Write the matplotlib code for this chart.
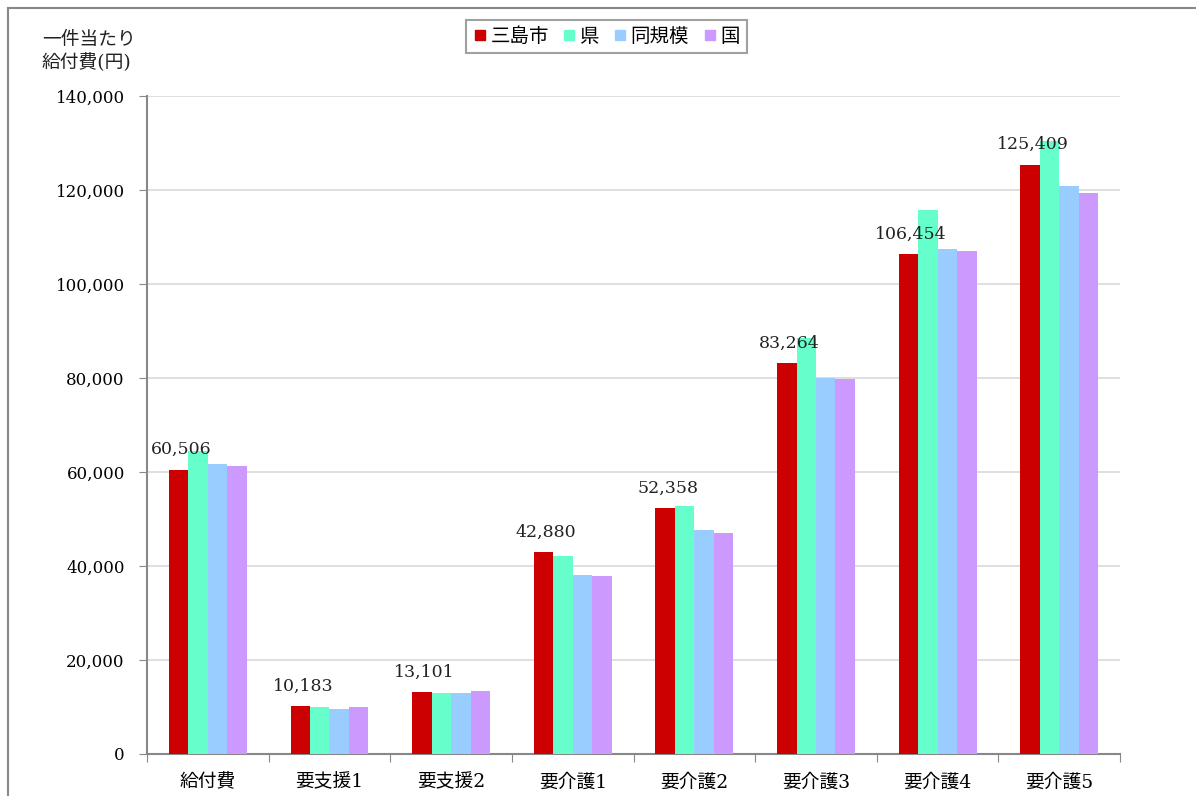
import matplotlib
matplotlib.use('Agg')
import matplotlib.pyplot as plt
from matplotlib.lines import Line2D
import numpy as np

plt.rcParams['font.family'] = ['DejaVu Serif', 'Noto Sans CJK JP', 'DejaVu Sans']

categories = ['給付費', '要支援1', '要支援2', '要介護1', '要介護2', '要介護3', '要介護4', '要介護5']
series_names = ['三島市', '県', '同規模', '国']
mishima = [60506, 10183, 13101, 42880, 52358, 83264, 106454, 125409]
ken = [64500, 10000, 13000, 42100, 52700, 88600, 115700, 130500]
doukibo = [61700, 9600, 13000, 38100, 47700, 80100, 107400, 120900]
kuni = [61300, 9900, 13300, 37800, 47000, 79800, 107000, 119300]
yticks = [0, 20000, 40000, 60000, 80000, 100000, 120000, 140000]

colors = ['#CC0000', '#66FFCC', '#99CCFF', '#CC99FF']
values = [mishima, ken, doukibo, kuni]

fig = plt.figure(figsize=(11.96, 7.96), dpi=100)
ax = fig.add_axes([0.1229, 0.0528, 0.8136, 0.8266])

x = np.arange(len(categories))
w = 0.16
for i, (vals, c) in enumerate(zip(values, colors)):
    ax.bar(x + (i - 1.5) * w, vals, w, color=c, linewidth=0, zorder=3)

# data labels for 三島市 only
for xi, v in zip(x, mishima):
    ax.annotate(f'{v:,}', (xi - 1.5 * w, v), xytext=(2, 11), textcoords='offset points',
                ha='center', va='baseline', fontsize=12.5, color='#222222', zorder=4)

ax.set_xlim(-0.5, len(categories) - 0.5)
ax.set_ylim(0, 140000)
ax.set_yticks(yticks)
ax.set_yticklabels([f'{t:,}' for t in yticks], fontsize=12)
ax.yaxis.grid(True, color='#D9D9D9', linewidth=1.2, zorder=0)

ax.set_xticks(np.arange(-0.5, len(categories)), labels=[''] * (len(categories) + 1))
ax.set_xticks(x, labels=categories, minor=True, fontsize=13.5)
ax.tick_params(axis='x', which='major', length=6, color='#888888', direction='out')
ax.tick_params(axis='x', which='minor', length=0, pad=14)
ax.tick_params(axis='y', length=6, color='#888888', pad=10)

for s in ['top', 'right']:
    ax.spines[s].set_visible(False)
for s in ['left', 'bottom']:
    ax.spines[s].set_color('#888888')
    ax.spines[s].set_linewidth(1.5)

fig.text(0.035, 0.935, '一件当たり\n給付費(円)', fontsize=13.5, ha='left', va='center',
         linespacing=1.25, color='#222222')

handles = [Line2D([], [], marker='s', linestyle='none', markersize=7.5,
                  markerfacecolor=c, markeredgecolor=c) for c in colors]
leg = fig.legend(handles, series_names, loc='center', bbox_to_anchor=(0.507, 0.954),
                 ncol=4, fontsize=14, frameon=True, fancybox=False,
                 handlelength=0.7, handletextpad=0.2, columnspacing=0.7,
                 borderpad=0.35)
leg.get_frame().set_edgecolor('#888888')
leg.get_frame().set_linewidth(1.5)

# outer frame
fig.add_artist(Line2D([0.0067, 0.0067], [0, 0.99], transform=fig.transFigure,
                      color='#888888', linewidth=1.5))
fig.add_artist(Line2D([0.0067, 1.0], [0.99, 0.99], transform=fig.transFigure,
                      color='#888888', linewidth=1.5))

fig.savefig('out.png', dpi=100)
